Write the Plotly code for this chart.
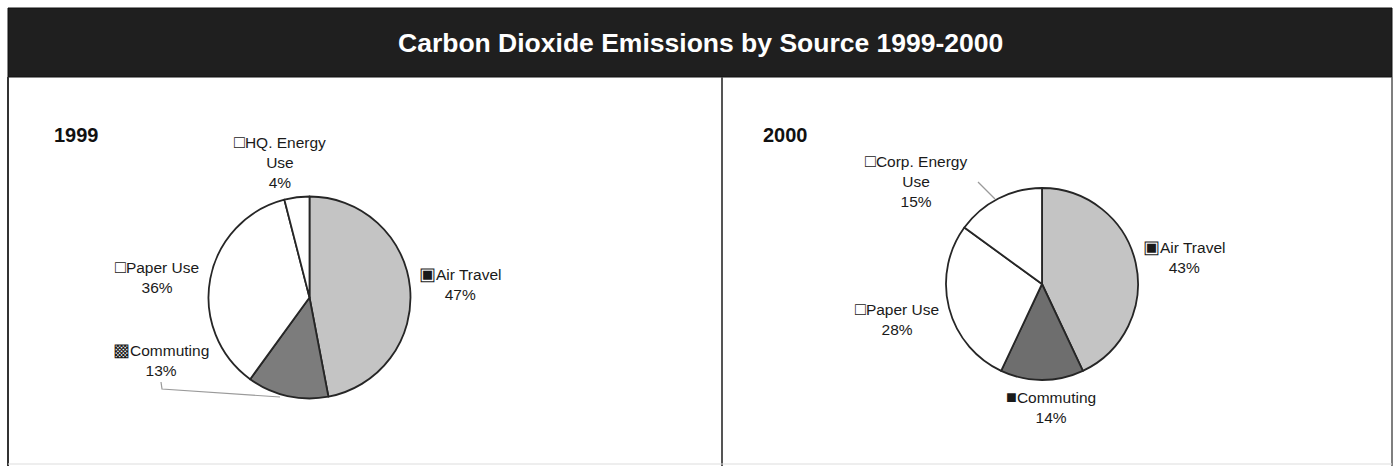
import plotly.graph_objects as go

W, H = 1396, 470

# ---- data ----
labels_1999 = ["Air Travel", "Commuting", "Paper Use", "HQ. Energy Use"]
values_1999 = [47, 13, 36, 4]
labels_2000 = ["Air Travel", "Commuting", "Paper Use", "Corp. Energy Use"]
values_2000 = [43, 14, 28, 15]
title_text = "Carbon Dioxide Emissions by Source 1999-2000"
panel_titles = ["1999", "2000"]

# ---- styles ----
colors_1999 = ["#c4c4c4", "#7c7c7c", "#ffffff", "#ffffff"]
colors_2000 = ["#c4c4c4", "#6e6e6e", "#ffffff", "#ffffff"]
keys_1999 = ["▣", "▩", "□", "□"]
keys_2000 = ["▣", "■", "□", "□"]
# label block centres in pixels (x, y)
label_pos_1999 = [(460, 283), (161, 359), (157, 276), (280, 162)]
label_pos_2000 = [(1184, 256), (1051, 406), (897, 318), (916, 181)]
font_family = "Liberation Sans, Arial, sans-serif"


def px(x):
    return x / W


def py(y):
    return 1 - y / H


fig = go.Figure()


def dom(cx, cy, r):
    return dict(x=[px(cx - r), px(cx + r)], y=[py(cy + r), py(cy - r)])


fig.add_trace(go.Pie(
    labels=labels_1999, values=values_1999, sort=False, direction="clockwise",
    rotation=0, textinfo="none", hoverinfo="label+percent",
    marker=dict(colors=colors_1999, line=dict(color="#262626", width=1.8)),
    domain=dom(309.5, 297.5, 101), showlegend=False,
))
fig.add_trace(go.Pie(
    labels=labels_2000, values=values_2000, sort=False, direction="clockwise",
    rotation=0, textinfo="none", hoverinfo="label+percent",
    marker=dict(colors=colors_2000, line=dict(color="#262626", width=1.8)),
    domain=dom(1042, 284, 96), showlegend=False,
))


def label_text(key, name, val):
    k = f"<span style='font-size:18px'>{key}</span>"
    if "Energy" in name:
        first, second = name.rsplit(" ", 1)
        return f"{k}{first}<br>{second}<br>{val}%"
    return f"{k}{name}<br>{val}%"


annotations = []
for labs, vals, keys, pos in [
    (labels_1999, values_1999, keys_1999, label_pos_1999),
    (labels_2000, values_2000, keys_2000, label_pos_2000),
]:
    for lab, val, key, (x, y) in zip(labs, vals, keys, pos):
        annotations.append(dict(
            text=label_text(key, lab, val), x=px(x), y=py(y), xref="paper", yref="paper",
            xanchor="center", yanchor="middle", showarrow=False, align="center",
            font=dict(family=font_family, size=15.5, color="#1a1a1a"),
        ))

annotations.append(dict(
    text=f"<b>{title_text}</b>", x=px(700), y=py(43), xref="paper", yref="paper",
    xanchor="center", yanchor="middle", showarrow=False,
    font=dict(family=font_family, size=26.5, color="#ffffff"),
))
for t, x in zip(panel_titles, [52, 761]):
    annotations.append(dict(
        text=f"<b>{t}</b>", x=px(x), y=py(135), xref="paper", yref="paper",
        xanchor="left", yanchor="middle", showarrow=False,
        font=dict(family=font_family, size=20, color="#111111"),
    ))

shapes = [
    # title bar
    dict(type="rect", xref="paper", yref="paper", x0=px(8), x1=px(1392), y0=py(77), y1=py(8),
         fillcolor="#1f1f1f", line=dict(color="#111111", width=1), layer="below"),
    # panel borders
    dict(type="line", xref="paper", yref="paper", x0=px(8), x1=px(8), y0=py(77), y1=py(466),
         line=dict(color="#333333", width=2)),
    dict(type="line", xref="paper", yref="paper", x0=px(722), x1=px(722), y0=py(77), y1=py(466),
         line=dict(color="#555555", width=2)),
    dict(type="line", xref="paper", yref="paper", x0=px(1392), x1=px(1392), y0=py(77), y1=py(466),
         line=dict(color="#555555", width=1.5)),
    dict(type="line", xref="paper", yref="paper", x0=px(8), x1=px(1392), y0=py(464), y1=py(464),
         line=dict(color="#dddddd", width=1)),
    # leader lines
    dict(type="path", xref="paper", yref="paper",
         path=f"M {px(161)} {py(382)} L {px(162)} {py(389)} L {px(280)} {py(397)}",
         line=dict(color="#9a9a9a", width=1.2)),
    dict(type="line", xref="paper", yref="paper", x0=px(978), x1=px(995), y0=py(182), y1=py(199),
         line=dict(color="#9a9a9a", width=1.2)),
]

fig.update_layout(
    width=W, height=H, margin=dict(l=0, r=0, t=0, b=0),
    paper_bgcolor="#ffffff", plot_bgcolor="#ffffff",
    annotations=annotations, shapes=shapes,
)

fig.write_html("out.html")
